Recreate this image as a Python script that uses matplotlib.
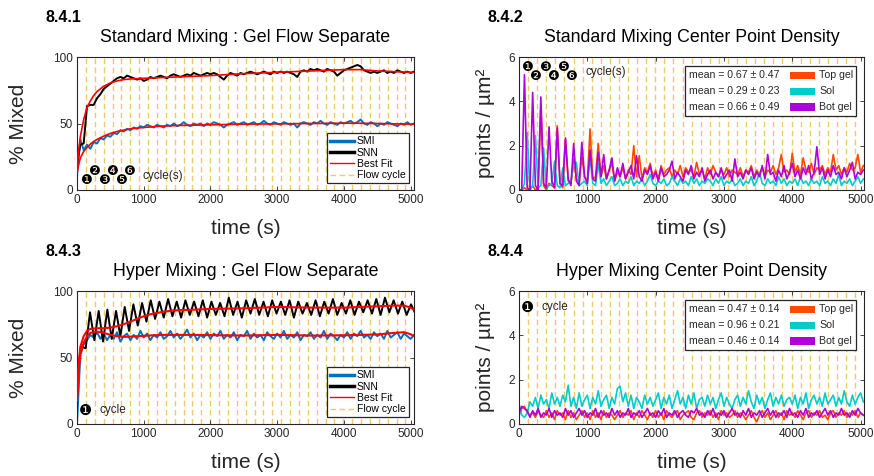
import numpy as np
import matplotlib
matplotlib.use("Agg")
import matplotlib.pyplot as plt
from matplotlib.lines import Line2D
from matplotlib.patches import Rectangle

plt.rcParams['font.family'] = ['Liberation Sans', 'DejaVu Sans']

# flow cycle start times (s)
cycle_times = [133, 266, 399, 532, 665, 798, 931, 1064, 1197, 1330, 1463, 1596,
               1729, 1862, 1995, 2128, 2261, 2394, 2527, 2660, 2793, 2926, 3059,
               3192, 3325, 3458, 3591, 3724, 3857, 3990, 4123, 4256, 4389, 4522,
               4655, 4788, 4921]

# sampling grids (s)
t_mix = np.arange(0, 5051, 50)
t_snn_hyper = np.arange(0, 5071, 65)
t_dens = np.arange(0, 5041, 40)

# 8.4.1 standard mixing, % mixed
std_snn = [20, 34, 35, 63, 64, 64, 69, 72, 76, 78,
           80, 82, 84, 85, 84, 86, 85, 84, 83, 84,
           82, 83, 85, 84, 85, 86, 85, 84, 86, 87,
           86, 85, 86, 87, 86, 88, 87, 86, 87, 88,
           87, 88, 87, 85, 83, 86, 88, 87, 86, 88,
           87, 88, 89, 88, 87, 88, 89, 88, 87, 89,
           88, 89, 88, 89, 88, 87, 85, 89, 90, 89,
           91, 90, 91, 90, 89, 91, 90, 89, 86, 88,
           90, 91, 92, 93, 94, 93, 90, 89, 88, 89,
           88, 89, 90, 88, 89, 88, 90, 89, 88, 89,
           88, 89]
std_smi = [10, 38, 30, 34, 31, 36, 35, 39, 38, 41,
           40, 43, 42, 45, 44, 46, 45, 47, 46, 48,
           47, 49, 48, 47, 49, 48, 47, 49, 48, 50,
           48, 49, 51, 49, 48, 50, 49, 50, 48, 50,
           49, 51, 50, 49, 47, 49, 50, 51, 49, 50,
           51, 49, 50, 51, 49, 50, 52, 50, 49, 51,
           50, 49, 51, 50, 49, 50, 47, 50, 51, 50,
           49, 51, 50, 52, 50, 49, 51, 50, 49, 51,
           50, 51, 52, 50, 51, 53, 50, 49, 51, 50,
           48, 50, 49, 51, 50, 49, 48, 50, 49, 51,
           49, 50]
fit_t_std = [0, 25, 50, 100, 150, 200, 250, 300, 400, 500, 600, 700, 800,
             1000, 1250, 1500, 2000, 2500, 3000, 3500, 4000, 4250, 4500, 5000, 5050]
fit_snn_std = [16, 30, 40, 53, 62, 67, 71, 74, 78, 80.5, 82, 83, 83.5,
               84, 84.5, 85, 86, 87.5, 88.5, 89.5, 90.5, 90.5, 89.5, 88.5, 88.5]
fit_smi_std = [13, 19, 24, 29, 32, 34.5, 36.5, 38, 40.5, 42.5, 44, 45, 46,
               47, 48, 48.5, 49, 49.5, 49.7, 50, 50.2, 50.2, 50, 49.5, 49.5]

# 8.4.3 hyper mixing, % mixed
hyp_snn = [40, 58, 57, 84, 63, 85, 62, 86, 64, 85,
           66, 88, 70, 90, 74, 91, 77, 93, 79, 92,
           80, 94, 81, 92, 80, 93, 82, 92, 81, 93,
           80, 92, 82, 91, 81, 95, 82, 92, 80, 93,
           83, 94, 82, 92, 81, 93, 83, 92, 82, 93,
           80, 92, 83, 91, 82, 93, 81, 92, 83, 94,
           82, 91, 83, 93, 82, 92, 84, 93, 83, 94,
           82, 95, 84, 93, 83, 92, 82, 90, 83]
hyp_smi = [0, 52, 60, 63, 67, 65, 69, 64, 68, 63,
           67, 64, 69, 62, 66, 68, 63, 67, 64, 70,
           65, 68, 63, 67, 65, 69, 64, 66, 70, 65,
           68, 64, 67, 71, 65, 68, 63, 67, 65, 69,
           64, 68, 66, 70, 64, 67, 65, 69, 63, 67,
           66, 70, 64, 68, 65, 67, 63, 69, 66, 64,
           68, 65, 70, 64, 67, 65, 69, 63, 67, 66,
           69, 64, 67, 65, 70, 64, 68, 66, 63, 67,
           65, 69, 64, 68, 66, 70, 65, 67, 64, 69,
           66, 68, 64, 70, 65, 67, 69, 64, 68, 66,
           64, 67]
fit_t_hyp = [0, 25, 50, 100, 150, 200, 300, 400, 500, 600, 700, 800, 900, 1000,
             1100, 1200, 1300, 1400, 1500, 1750, 2000, 2500, 3000, 3500, 4000,
             4500, 4750, 4900, 5000, 5050]
fit_snn_hyp = [20, 45, 58, 66, 70, 71.5, 72, 72, 72.5, 73.5, 75, 77, 79, 81,
               82.5, 83.5, 84.5, 85, 85.5, 86, 86.5, 87, 88, 87.5, 87.5,
               88.5, 89, 89, 87.5, 86]
fit_smi_hyp = [18, 40, 52, 61, 66, 68.5, 69.5, 68.5, 67, 66, 65.5, 65.7, 66, 66.3,
               66.6, 66.8, 67, 67, 67, 67, 66.8, 66.5, 67, 66.5, 66.7,
               67.3, 68.5, 69, 67.5, 66]

# 8.4.2 standard mixing, center point density (points / um^2)
std_top = [0, 0, 0.1, 0, 0, 0.2, 0, 0.1, 3.8, 0.2,
           0, 0.3, 0.2, 0.1, 2.9, 0.3, 0.1, 2.3, 0.4, 0.3,
           1.4, 0.5, 0.3, 1.5, 0.6, 0.4, 2.75, 0.5, 0.6, 2.1,
           0.6, 1.1, 0.5, 0.9, 1.2, 0.4, 0.8, 0.6, 1.0, 0.5,
           0.9, 0.7, 2.0, 0.6, 1.55, 0.5, 1.0, 0.8, 1.2, 0.6,
           0.9, 0.5, 1.1, 0.7, 0.9, 1.0, 0.6, 0.9, 0.7, 1.1,
           0.6, 1.0, 0.8, 0.9, 0.6, 1.25, 0.7, 0.9, 0.5, 1.0,
           0.7, 1.1, 0.8, 0.6, 0.9, 0.7, 1.0, 0.6, 0.9, 0.8,
           0.7, 1.0, 0.6, 0.9, 0.8, 1.1, 0.6, 0.9, 0.7, 1.0,
           0.6, 0.9, 0.8, 1.1, 0.7, 1.0, 1.6, 0.8, 0.9, 0.7,
           1.65, 0.8, 1.1, 0.7, 1.45, 0.9, 0.8, 1.2, 0.7, 1.0,
           0.9, 1.1, 0.7, 1.0, 0.8, 1.6, 0.9, 1.1, 0.7, 1.0,
           0.8, 1.2, 0.9, 1.0, 1.6, 0.8, 1.1]
std_sol = [0, 0, 0.3, 2.6, 0, 0.2, 2.45, 0.1, 0.2, 1.9,
           0.1, 0.2, 0.3, 1.3, 0.2, 0.1, 1.0, 0.2, 0.3, 0.4,
           1.1, 1.25, 0.2, 0.3, 0.4, 0.2, 1.5, 0.3, 0.2, 1.2,
           0.3, 0.5, 0.2, 0.4, 0.6, 0.2, 0.3, 0.5, 0.2, 0.4,
           0.3, 0.6, 0.2, 0.4, 0.3, 0.5, 0.2, 0.4, 0.7, 0.3,
           0.2, 0.4, 0.3, 0.5, 0.2, 0.3, 0.6, 0.4, 0.2, 0.5,
           0.3, 0.4, 0.2, 0.6, 0.3, 0.5, 0.2, 0.4, 0.3, 0.5,
           0.4, 0.2, 0.5, 0.3, 0.6, 0.2, 0.4, 0.3, 0.5, 0.2,
           0.3, 0.5, 0.2, 0.4, 0.3, 0.6, 0.2, 0.4, 0.8, 0.3,
           0.2, 0.5, 0.3, 0.4, 0.2, 0.6, 0.3, 0.5, 0.2, 0.4,
           0.3, 0.5, 0.2, 0.6, 0.3, 0.4, 0.2, 0.5, 0.3, 0.4,
           0.2, 0.6, 0.3, 0.4, 0.2, 0.5, 0.3, 0.7, 0.2, 0.4,
           0.3, 0.5, 0.2, 0.4, 0.6, 0.3, 0.5]
std_bot = [0, 0, 5.2, 0.1, 0, 4.4, 0.2, 0, 4.2, 0.3,
           0.1, 2.85, 0.4, 0.1, 2.8, 0.3, 0.2, 2.35, 0.5, 0.2,
           2.1, 0.4, 0.2, 2.15, 0.6, 0.3, 1.8, 0.5, 0.4, 1.7,
           0.6, 1.6, 0.5, 0.9, 1.45, 0.4, 1.0, 0.6, 1.2, 0.5,
           0.8, 1.1, 0.5, 1.55, 0.6, 0.4, 0.9, 0.7, 1.1, 0.5,
           0.8, 0.4, 1.0, 0.6, 0.7, 0.9, 1.3, 0.5, 0.8, 0.6,
           0.4, 0.9, 0.7, 1.1, 0.5, 0.8, 0.6, 1.0, 0.4, 0.7,
           0.9, 0.5, 0.8, 0.6, 1.0, 0.5, 0.7, 0.9, 0.4, 1.4,
           0.6, 0.8, 0.5, 0.9, 0.7, 1.0, 0.5, 0.8, 0.6, 1.1,
           0.5, 1.6, 0.7, 0.8, 0.4, 0.9, 0.6, 1.1, 0.5, 0.8,
           1.2, 0.6, 0.9, 0.5, 1.0, 0.7, 1.1, 0.5, 0.8, 1.95,
           0.7, 1.0, 0.5, 0.9, 0.6, 1.1, 0.7, 0.8, 0.5, 1.0,
           0.6, 0.9, 1.25, 0.5, 0.8, 0.7, 0.9]

# 8.4.4 hyper mixing, center point density
hyp_top = [0.4, 0.7, 0.8, 0.5, 0.4, 0.5, 0.3, 0.6, 0.4, 0.3,
           0.6, 0.3, 0.5, 0.2, 0.6, 0.4, 0.5, 0.2, 0.6, 0.3,
           0.5, 0.2, 0.4, 0.6, 0.3, 0.5, 0.2, 0.6, 0.3, 0.5,
           0.2, 0.6, 0.3, 0.5, 0.4, 0.2, 0.4, 0.6, 0.3, 0.5,
           0.4, 0.6, 0.2, 0.5, 0.3, 0.6, 0.4, 0.2, 0.5, 0.3,
           0.6, 0.3, 0.5, 0.2, 0.6, 0.4, 0.3, 0.5, 0.6, 0.2,
           0.4, 0.5, 0.6, 0.3, 0.2, 0.5, 0.6, 0.3, 0.5, 0.4,
           0.6, 0.3, 0.5, 0.2, 0.6, 0.4, 0.5, 0.3, 0.4, 0.6,
           0.3, 0.5, 0.4, 0.2, 0.4, 0.6, 0.3, 0.1, 0.4, 0.6,
           0.3, 0.5, 0.2, 0.4, 0.6, 0.3, 0.5, 0.2, 0.6, 0.4,
           0.5, 0.3, 0.6, 0.4, 0.2, 0.5, 0.6, 0.3, 0.5, 0.4,
           0.6, 0.3, 0.4, 0.2, 0.5, 0.6, 0.3, 0.5, 0.4, 0.6,
           0.3, 0.5, 0.4, 0.6, 0.3, 0.5, 0.4]
hyp_sol = [0.9, 0.4, 0.3, 0.5, 1.0, 0.8, 1.2, 0.7, 1.3, 0.9,
           1.1, 0.7, 1.4, 0.9, 1.2, 0.8, 1.3, 1.0, 1.75, 0.8,
           1.2, 0.7, 1.4, 0.8, 1.1, 1.3, 0.7, 1.2, 0.9, 1.5,
           0.8, 1.1, 1.3, 0.7, 1.2, 0.9, 1.6, 1.7, 1.0, 1.4,
           0.8, 1.3, 0.7, 1.2, 1.0, 0.7, 1.3, 0.9, 1.2, 0.8,
           1.1, 1.4, 0.7, 1.2, 0.9, 1.3, 0.7, 1.1, 1.5, 0.9,
           1.2, 0.7, 1.3, 0.9, 1.4, 0.7, 1.1, 1.2, 0.8, 1.3,
           0.9, 1.2, 0.7, 1.1, 1.4, 0.8, 1.2, 0.9, 0.7, 1.1,
           1.3, 0.8, 1.2, 0.9, 1.5, 1.0, 0.7, 1.3, 0.9, 1.2,
           0.7, 1.1, 1.4, 0.8, 1.2, 0.9, 1.3, 0.8, 1.1, 1.2,
           0.9, 1.3, 0.7, 1.2, 0.9, 1.4, 0.7, 1.1, 1.3, 0.9,
           1.2, 0.8, 1.4, 0.9, 1.1, 1.3, 0.8, 1.2, 0.9, 1.5,
           1.0, 0.8, 1.3, 0.9, 1.2, 1.4, 1.0]
hyp_bot = [0.5, 0.8, 0.7, 0.6, 0.3, 0.6, 0.4, 0.7, 0.3, 0.5,
           0.4, 0.7, 0.3, 0.6, 0.4, 0.5, 0.3, 0.7, 0.4, 0.6,
           0.3, 0.5, 0.7, 0.4, 0.6, 0.3, 0.5, 0.4, 0.7, 0.3,
           0.6, 0.4, 0.5, 0.3, 0.7, 0.4, 0.6, 0.3, 0.5, 0.4,
           0.7, 0.3, 0.5, 0.4, 0.6, 0.3, 0.5, 0.7, 0.4, 0.5,
           0.3, 0.6, 0.4, 0.7, 0.3, 0.5, 0.4, 0.6, 0.3, 0.5,
           0.6, 0.4, 0.3, 0.6, 0.5, 0.7, 0.4, 0.5, 0.3, 0.6,
           0.4, 0.7, 0.3, 0.5, 0.4, 0.6, 0.3, 0.5, 0.7, 0.4,
           0.5, 0.3, 0.6, 0.4, 0.7, 0.3, 0.5, 0.4, 0.6, 0.3,
           0.5, 0.7, 0.4, 0.6, 0.3, 0.5, 0.4, 0.6, 0.3, 0.7,
           0.4, 0.5, 0.3, 0.6, 0.4, 0.7, 0.3, 0.5, 0.4, 0.6,
           0.3, 0.5, 0.7, 0.4, 0.6, 0.3, 0.5, 0.4, 0.7, 0.4,
           0.5, 0.3, 0.6, 0.4, 0.7, 0.5, 0.4]

std_means = ['mean = 0.67 \u00b1 0.47', 'mean = 0.29 \u00b1 0.23', 'mean = 0.66 \u00b1 0.49']
hyp_means = ['mean = 0.47 \u00b1 0.14', 'mean = 0.96 \u00b1 0.21', 'mean = 0.46 \u00b1 0.14']
region_names = ['Top gel', 'Sol', 'Bot gel']
circled = ['\u2776', '\u2777', '\u2778', '\u2779', '\u277a', '\u277b']

BLUE = '#0072bd'
RED = '#ff0000'
CYCLE = '#f4c76c'
TOP = '#ff4800'
SOL = '#00cccc'
BOT = '#b000dc'
GRAY = '#262626'

W, H = 874, 476
fig = plt.figure(figsize=(W / 100, H / 100), dpi=100)


def px_axes(x0, y0, x1, y1):
    return fig.add_axes([x0 / W, 1 - y1 / H, (x1 - x0) / W, (y1 - y0) / H])


def style_axes(ax, ymax, yticks):
    ax.set_xlim(0, 5050)
    ax.set_ylim(0, ymax)
    ax.set_xticks([0, 1000, 2000, 3000, 4000, 5000])
    ax.set_yticks(yticks)
    ax.tick_params(direction='in', top=True, right=True, length=3, width=0.6,
                   labelsize=8.5, colors=GRAY, pad=3)
    for s in ax.spines.values():
        s.set_color(GRAY)
        s.set_linewidth(0.8)


def draw_cycles(ax):
    for c in cycle_times:
        ax.axvline(c, color=CYCLE, lw=1, dashes=(4, 2.5), zorder=1)


def mix_legend(ax):
    handles = [Line2D([], [], color=BLUE, lw=2.5),
               Line2D([], [], color='black', lw=2.5),
               Line2D([], [], color=RED, lw=1),
               Line2D([], [], color=CYCLE, lw=1, dashes=(4, 2.5))]
    leg = ax.legend(handles, ['SMI', 'SNN', 'Best Fit', 'Flow cycle'],
                    loc='lower right', bbox_to_anchor=(0.985, 0.05), borderaxespad=0,
                    fontsize=7.5, labelspacing=0.12, handlelength=2.3, handletextpad=0.3,
                    borderpad=0.3, fancybox=False, framealpha=1, edgecolor=GRAY)
    leg.get_frame().set_linewidth(0.9)


def density_legend(ax, means):
    ax.add_patch(Rectangle((0.481, 0.56), 0.496, 0.375, transform=ax.transAxes,
                           facecolor='white', edgecolor=GRAY, lw=0.9, zorder=5))
    for i, (m, name, col) in enumerate(zip(means, region_names, [TOP, SOL, BOT])):
        yy = 0.862 - i * 0.119
        ax.text(0.494, yy, m, transform=ax.transAxes, fontsize=7.6, va='center',
                color=GRAY, zorder=6)
        ax.add_patch(Rectangle((0.786, yy - 0.027), 0.072, 0.054, transform=ax.transAxes,
                               facecolor=col, edgecolor='none', zorder=6))
        ax.text(0.871, yy, name, transform=ax.transAxes, fontsize=7.6, va='center',
                color=GRAY, zorder=6)


def labels(x0, x1, y0, y1, tag, title, ylab, ylab_x):
    cx = (x0 + x1) / 2
    fig.text((x0 - 32) / W, 1 - (y0 - 40) / H, tag, fontsize=11.5, fontweight='bold',
             va='center')
    fig.text(cx / W, 1 - (y0 - 20) / H, title, fontsize=12.8, ha='center', va='center')
    fig.text(cx / W, 1 - (y1 + 38) / H, 'time (s)', fontsize=15, ha='center',
             va='center', color=GRAY)
    fig.text(ylab_x / W, 1 - ((y0 + y1) / 2) / H, ylab, fontsize=15, rotation=90,
             ha='center', va='center', color=GRAY)


def cycle_marks(ax, xs, ys, size=9.5):
    for s, x, y in zip(circled, xs, ys):
        ax.text(x, y, s, fontsize=size, family=['DejaVu Sans'], ha='center',
                va='center', zorder=4)


# ---- 8.4.1 ----
ax1 = px_axes(77, 57, 414, 190)
draw_cycles(ax1)
ax1.plot(t_mix, std_smi, color=BLUE, lw=1.4, zorder=2)
ax1.plot(t_mix, std_snn, color='black', lw=1.4, zorder=2)
ax1.plot(fit_t_std, fit_smi_std, color=RED, lw=1.2, zorder=3)
ax1.plot(fit_t_std, fit_snn_std, color=RED, lw=1.2, zorder=3)
style_axes(ax1, 100, [0, 50, 100])
mix_legend(ax1)
cycle_marks(ax1, cycle_times[:6], [7.5, 14.2, 7.5, 14.2, 7.5, 14.2])
ax1.text(980, 10.3, 'cycle(s)', fontsize=8.5, va='center', color=GRAY)
labels(77, 414, 57, 190, '8.4.1', 'Standard Mixing : Gel Flow Separate', '% Mixed', 18)

# ---- 8.4.2 ----
ax2 = px_axes(519, 57, 864, 190)
draw_cycles(ax2)
ax2.plot(t_dens, std_top, color=TOP, lw=1.2, zorder=2)
ax2.plot(t_dens, std_sol, color=SOL, lw=1.2, zorder=2)
ax2.plot(t_dens, std_bot, color=BOT, lw=1.2, zorder=2)
style_axes(ax2, 6, [0, 2, 4, 6])
density_legend(ax2, std_means)
cycle_marks(ax2, [c - 20 for c in cycle_times[:6]], [5.52, 5.1, 5.52, 5.1, 5.52, 5.1])
ax2.text(980, 5.32, 'cycle(s)', fontsize=8.5, va='center', color=GRAY)
labels(519, 864, 57, 190, '8.4.2', 'Standard Mixing Center Point Density',
       'points / \u00b5m\u00b2', 485)

# ---- 8.4.3 ----
ax3 = px_axes(77, 291, 414, 424)
draw_cycles(ax3)
ax3.plot(t_mix, hyp_smi, color=BLUE, lw=1.4, zorder=2)
ax3.plot(t_snn_hyper, hyp_snn, color='black', lw=1.4, zorder=2)
ax3.plot(fit_t_hyp, fit_smi_hyp, color=RED, lw=1.5, zorder=3)
ax3.plot(fit_t_hyp, fit_snn_hyp, color=RED, lw=1.5, zorder=3)
style_axes(ax3, 100, [0, 50, 100])
mix_legend(ax3)
cycle_marks(ax3, cycle_times[:1], [10.5], size=10.5)
ax3.text(330, 10.5, 'cycle', fontsize=8.5, va='center', color=GRAY)
labels(77, 414, 291, 424, '8.4.3', 'Hyper Mixing : Gel Flow Separate', '% Mixed', 18)

# ---- 8.4.4 ----
ax4 = px_axes(519, 291, 864, 424)
draw_cycles(ax4)
ax4.plot(t_dens, hyp_top, color=TOP, lw=1.2, zorder=2)
ax4.plot(t_dens, hyp_sol, color=SOL, lw=1.2, zorder=2)
ax4.plot(t_dens, hyp_bot, color=BOT, lw=1.2, zorder=2)
style_axes(ax4, 6, [0, 2, 4, 6])
density_legend(ax4, hyp_means)
cycle_marks(ax4, [122], [5.28], size=10.5)
ax4.text(330, 5.28, 'cycle', fontsize=8.5, va='center', color=GRAY)
labels(519, 864, 291, 424, '8.4.4', 'Hyper Mixing Center Point Density',
       'points / \u00b5m\u00b2', 485)

fig.savefig('out.png', dpi=100)
